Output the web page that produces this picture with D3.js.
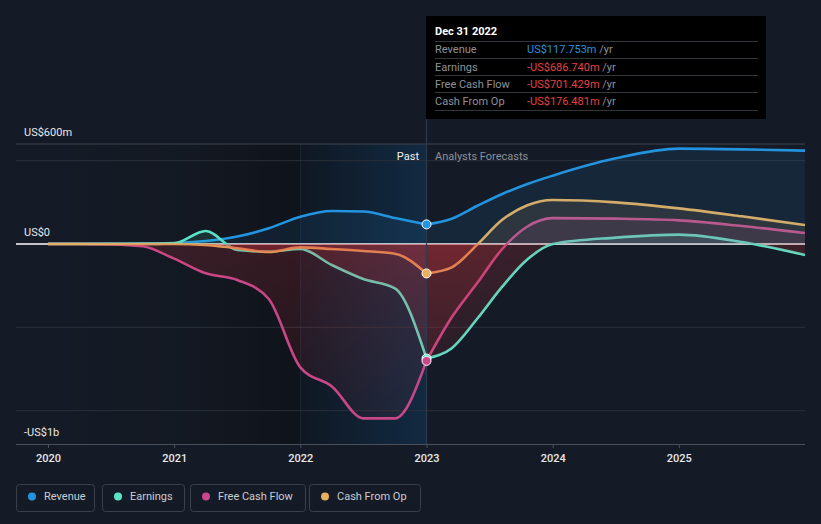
<!DOCTYPE html>
<html><head><meta charset="utf-8">
<script src="https://cdn.jsdelivr.net/npm/d3@7"></script>
<style>
html,body{margin:0;padding:0;background:#151b26;}
svg{display:block;font-family:Roboto,"Noto Sans",sans-serif;}
</style></head>
<body><svg id="chart" width="821" height="524"></svg>
<script>
// ---------- data ----------
const seriesNames = ["Revenue", "Earnings", "Free Cash Flow", "Cash From Op"];
const seriesColors = ["#2394df", "#5be3c7", "#c8488b", "#e8b05e"];
const pastYears = [2020, 2020.25, 2020.5, 2020.75, 2021, 2021.25, 2021.5, 2021.75, 2022, 2022.25, 2022.5, 2022.75, 2023];
const revenuePast  = [2, 2, 3, 4, 6, 18, 45, 94, 164, 198, 195, 156, 117.753];
const earningsPast = [0, 0, 0, 0, 4, 78, -36, -46, -30, -126, -210, -266, -686.74];
const fcfPast      = [0, 0, -2, -14, -88, -176, -216, -330, -740, -855, -1046, -1046, -701.429];
const cfoPast      = [0, 0, 0, 0, 0, -5, -26, -48, -20, -30, -42, -58, -176.481];
const forecastYears = [2023, 2023.2, 2023.4, 2023.6, 2023.8, 2024, 2024.5, 2025, 2025.5, 2026];
const revenueFc  = [117.753, 152, 228, 300, 360, 410, 514, 572, 568, 560];
const earningsFc = [-686.74, -625, -450, -256, -92, 0, 38, 56, 12, -66];
const fcfFc      = [-701.429, -440, -236, -30, 105, 155, 152, 142, 108, 66];
const cfoFc      = [-176.481, -140, -5, 145, 232, 264, 250, 214, 166, 114];
const yearTicks = [2020, 2021, 2022, 2023, 2024, 2025];
const yTickLabels = [[600, "US$600m"], [0, "US$0"], [-1000, "-US$1b"]];
const gridValues = [500, -500, -1000];
const tooltipTitle = "Dec 31 2022";
const tooltipValues = ["US$117.753m", "-US$686.740m", "-US$701.429m", "-US$176.481m"];

const past = [revenuePast, earningsPast, fcfPast, cfoPast];
const fc = [revenueFc, earningsFc, fcfFc, cfoFc];

// ---------- scales ----------
const svg = d3.select("#chart");
const x = d3.scaleLinear().domain([2020, 2026]).range([48, 805]);
const y = d3.scaleLinear().domain([-1200, 600]).range([444, 144]);
const y0 = y(0);

const defs = svg.append("defs");
const gDark = defs.append("linearGradient").attr("id", "gDark").attr("x1", 0).attr("x2", 1).attr("y1", 0).attr("y2", 0);
gDark.append("stop").attr("offset", 0).attr("stop-color", "#000").attr("stop-opacity", 0);
gDark.append("stop").attr("offset", 0.5).attr("stop-color", "#000").attr("stop-opacity", 0.08);
gDark.append("stop").attr("offset", 1).attr("stop-color", "#000").attr("stop-opacity", 0.3);
const gHi = defs.append("linearGradient").attr("id", "gHi").attr("x1", 0).attr("x2", 1).attr("y1", 0).attr("y2", 0);
gHi.append("stop").attr("offset", 0).attr("stop-color", "#05101c").attr("stop-opacity", 0.35);
gHi.append("stop").attr("offset", 1).attr("stop-color", "#0b4a7c").attr("stop-opacity", 0.32);
const gNeg = defs.append("linearGradient").attr("id", "gNeg").attr("gradientUnits", "userSpaceOnUse")
  .attr("x1", 0).attr("x2", 0).attr("y1", y0).attr("y2", y(-1200));
gNeg.append("stop").attr("offset", 0).attr("stop-color", "#d8343c").attr("stop-opacity", 0.19);
gNeg.append("stop").attr("offset", 1).attr("stop-color", "#d8343c").attr("stop-opacity", 0.04);
defs.append("clipPath").attr("id", "clipPos").append("rect").attr("x", 0).attr("y", 0).attr("width", 821).attr("height", y0);
defs.append("clipPath").attr("id", "clipNeg").append("rect").attr("x", 0).attr("y", y0).attr("width", 821).attr("height", 524 - y0);

// ---------- background regions ----------
svg.append("rect").attr("x", x(2020)).attr("y", y(600)).attr("width", x(2022) - x(2020)).attr("height", y(-1200) - y(600)).attr("fill", "url(#gDark)");
svg.append("rect").attr("x", x(2022)).attr("y", y(600)).attr("width", x(2023) - x(2022)).attr("height", y(-1200) - y(600)).attr("fill", "url(#gHi)");
svg.append("line").attr("x1", x(2022)).attr("x2", x(2022)).attr("y1", y(600)).attr("y2", y(-1200)).attr("stroke", "#2a3444").attr("stroke-opacity", 0.5);

// ---------- grid ----------
svg.append("line").attr("x1", 16).attr("x2", 805).attr("y1", y(600)).attr("y2", y(600)).attr("stroke", "#3e444e").attr("stroke-width", 1);
svg.selectAll(".grid").data(gridValues).enter().append("line")
  .attr("x1", 16).attr("x2", 805).attr("y1", d => y(d)).attr("y2", d => y(d))
  .attr("stroke", "#2a303a").attr("stroke-width", 1);
svg.append("line").attr("x1", 16).attr("x2", 805).attr("y1", y0).attr("y2", y0).attr("stroke", "#ffffff").attr("stroke-width", 1.3);

// ---------- axis ----------
svg.append("line").attr("x1", 16).attr("x2", 805).attr("y1", 444.5).attr("y2", 444.5).attr("stroke", "#4a505a");
const ax = svg.append("g").attr("transform", "translate(0,444)")
  .call(d3.axisBottom(x).tickValues(yearTicks).tickFormat(d3.format("d")).tickSize(4).tickPadding(6));
ax.select(".domain").remove();
ax.selectAll("line").attr("stroke", "#4a505a");
ax.selectAll("text").attr("fill", "#e6e8ea").attr("font-size", 11).attr("font-weight", 500).attr("font-family", "Roboto,sans-serif");

// ---------- lines ----------
const line = d3.line().x(d => x(d[0])).y(d => y(d[1])).curve(d3.curveMonotoneX);
const area = d3.area().x(d => x(d[0])).y0(y0).y1(d => y(d[1])).curve(d3.curveMonotoneX);
const pairs = (ys, vs) => ys.map((t, i) => [t, vs[i]]);

const lineG = svg.append("g");
const areaG = svg.append("g");
seriesNames.forEach((name, i) => {
  [pairs(pastYears, past[i]), pairs(forecastYears, fc[i])].forEach(pts => {
    lineG.append("path").attr("d", line(pts)).attr("fill", "none")
      .attr("stroke", seriesColors[i]).attr("stroke-width", 2.6).attr("stroke-linejoin", "round");
  });
});
// area fills drawn over the lines (as in reference)
[3, 2, 1, 0].forEach(i => {
  [pairs(pastYears, past[i]), pairs(forecastYears, fc[i])].forEach(pts => {
    areaG.append("path").attr("d", area(pts)).attr("clip-path", "url(#clipPos)")
      .attr("fill", seriesColors[i]).attr("fill-opacity", i === 0 ? 0.1 : 0.12);
    areaG.append("path").attr("d", area(pts)).attr("clip-path", "url(#clipNeg)")
      .attr("fill", "url(#gNeg)");
  });
});

// ---------- marker line & markers ----------
svg.append("line").attr("x1", x(2023)).attr("x2", x(2023)).attr("y1", 119).attr("y2", 444)
  .attr("stroke", "#2c3a4c").attr("stroke-width", 1.2);
[1, 2, 3, 0].forEach(i => {
  svg.append("circle").attr("cx", x(2023)).attr("cy", y(past[i][past[i].length - 1])).attr("r", 4.5)
    .attr("fill", seriesColors[i]).attr("stroke", "#ffffff").attr("stroke-width", 1);
});

// ---------- labels ----------
yTickLabels.forEach(([v, t]) => {
  const yy = v === 600 ? y(v) - 12 : (v === 0 ? y(v) - 12 : 432);
  svg.append("text").attr("x", 24).attr("y", yy).attr("dy", "0.35em").attr("fill", "#e6e8ea")
    .attr("font-size", 11).text(t);
});
svg.append("text").attr("x", 419).attr("y", 156).attr("dy", "0.35em").attr("text-anchor", "end")
  .attr("fill", "#eef0f2").attr("font-size", 11).text("Past");
svg.append("text").attr("x", 435).attr("y", 156).attr("dy", "0.35em")
  .attr("fill", "#8b9099").attr("font-size", 11).text("Analysts Forecasts");

// ---------- tooltip ----------
const tt = svg.append("g");
tt.append("rect").attr("x", 426).attr("y", 16).attr("width", 340).attr("height", 103).attr("fill", "#000000");
tt.append("text").attr("x", 435).attr("y", 31).attr("dy", "0.35em").attr("fill", "#ffffff")
  .attr("font-size", 11).attr("font-weight", 700).text(tooltipTitle);
const sepY = [41.5, 58.5, 75.5, 92.5, 110.5];
sepY.forEach(s => tt.append("line").attr("x1", 435).attr("x2", 758).attr("y1", s).attr("y2", s).attr("stroke", "#33363b"));
seriesNames.forEach((n, i) => {
  const ry = 49.5 + i * 17.2;
  tt.append("text").attr("x", 435).attr("y", ry).attr("dy", "0.35em").attr("fill", "#8e9299").attr("font-size", 11).text(n);
  const t = tt.append("text").attr("x", 527).attr("y", ry).attr("dy", "0.35em").attr("font-size", 11);
  t.append("tspan").attr("fill", i === 0 ? "#2394df" : "#e8413f").text(tooltipValues[i]);
  t.append("tspan").attr("fill", "#8e9299").text(" /yr");
});

// ---------- legend ----------
const legendX = [16, 102, 190, 309];
const legendW = [78, 82, 115, 111];
seriesNames.forEach((n, i) => {
  const g = svg.append("g").attr("transform", `translate(${legendX[i]},484)`);
  g.append("rect").attr("x", 0.5).attr("y", 0.5).attr("width", legendW[i]).attr("height", 27).attr("rx", 3)
    .attr("fill", "none").attr("stroke", "#3b414b");
  g.append("circle").attr("cx", 16).attr("cy", 12.5).attr("r", 4).attr("fill", seriesColors[i]);
  g.append("text").attr("x", 28).attr("y", 12.5).attr("dy", "0.35em").attr("fill", "#c9cdd3")
    .attr("font-size", 11).text(n);
});
</script>
</body></html>
